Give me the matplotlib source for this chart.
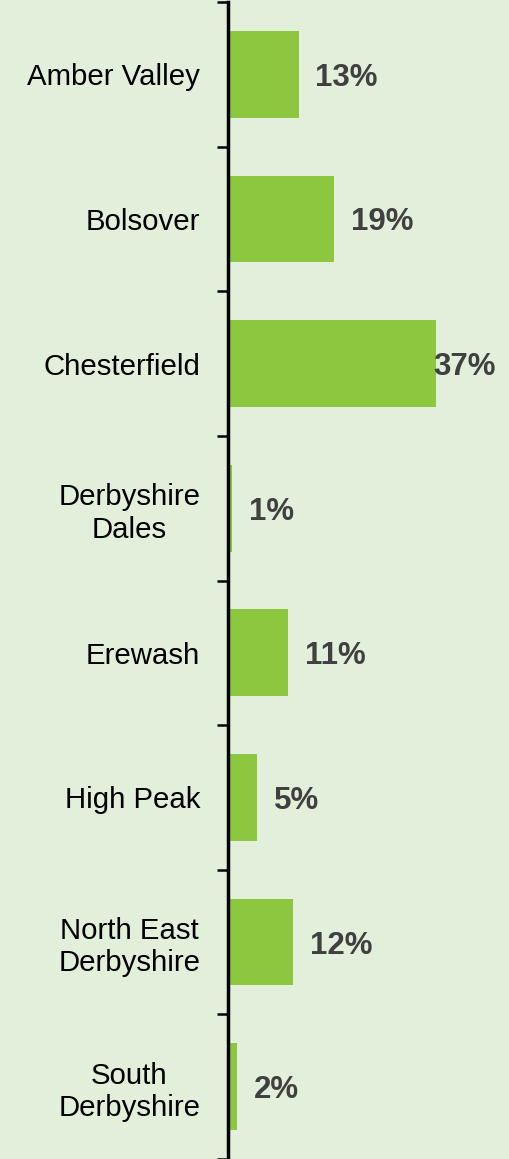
import matplotlib
matplotlib.use("Agg")
import matplotlib.pyplot as plt
import numpy as np

plt.rcParams['font.family'] = ['Liberation Sans', 'DejaVu Sans']

categories = ["Amber Valley", "Bolsover", "Chesterfield", "Derbyshire\nDales",
              "Erewash", "High Peak", "North East\nDerbyshire", "South\nDerbyshire"]
values = [12.6, 18.9, 37.0, 0.7, 10.7, 5.2, 11.6, 1.6]
value_labels = ["13%", "19%", "37%", "1%", "11%", "5%", "12%", "2%"]

BG = "#E2EFDA"
BAR = "#8DC63F"
TXT = "#404040"

W, H = 510, 1159
fig = plt.figure(figsize=(W / 100, H / 100), dpi=100, facecolor=BG)
ax = fig.add_axes([228 / W, 0, 1 - 228 / W, (H - 2) / H], facecolor=BG)

y = np.arange(len(categories))
ax.barh(y, values, height=0.6, color=BAR, zorder=2)
ax.set_ylim(len(categories) - 0.5, -0.5)
ax.set_xlim(0, (W - 228) / 5.62)

for s in ["top", "right", "bottom"]:
    ax.spines[s].set_visible(False)
ax.spines["left"].set_linewidth(2.5)
ax.spines["left"].set_color("black")
ax.spines["left"].set_zorder(3)

ax.set_xticks([])
ax.set_yticks(y)
ax.set_yticklabels(categories, fontsize=21.2, color="black", multialignment="center")
ax.tick_params(axis="y", which="major", length=0, pad=20)
ax.set_yticks(np.arange(-0.5, len(categories) + 0.5, 1), minor=True)
ax.tick_params(axis="y", which="minor", length=8, width=1.8, color="black")
for lbl in ax.get_yticklabels():
    lbl.set_y(lbl.get_position()[1])

texts = []
for yi, v, lab in zip(y, values, value_labels):
    t = ax.annotate(lab, xy=(v, yi), xytext=(12, -2.5), textcoords="offset points",
                    ha="left", va="center", fontsize=22.5, fontweight="bold",
                    color=TXT, zorder=4)
    texts.append(t)

fig.canvas.draw()
r = fig.canvas.get_renderer()
limit = W - 14
for t in texts:
    bb = t.get_window_extent(r)
    if bb.x1 > limit:
        shift = (bb.x1 - limit) * 72 / fig.dpi
        t.set_position((12 - shift, -2.5))

fig.savefig("out.png", dpi=100, facecolor=BG)
